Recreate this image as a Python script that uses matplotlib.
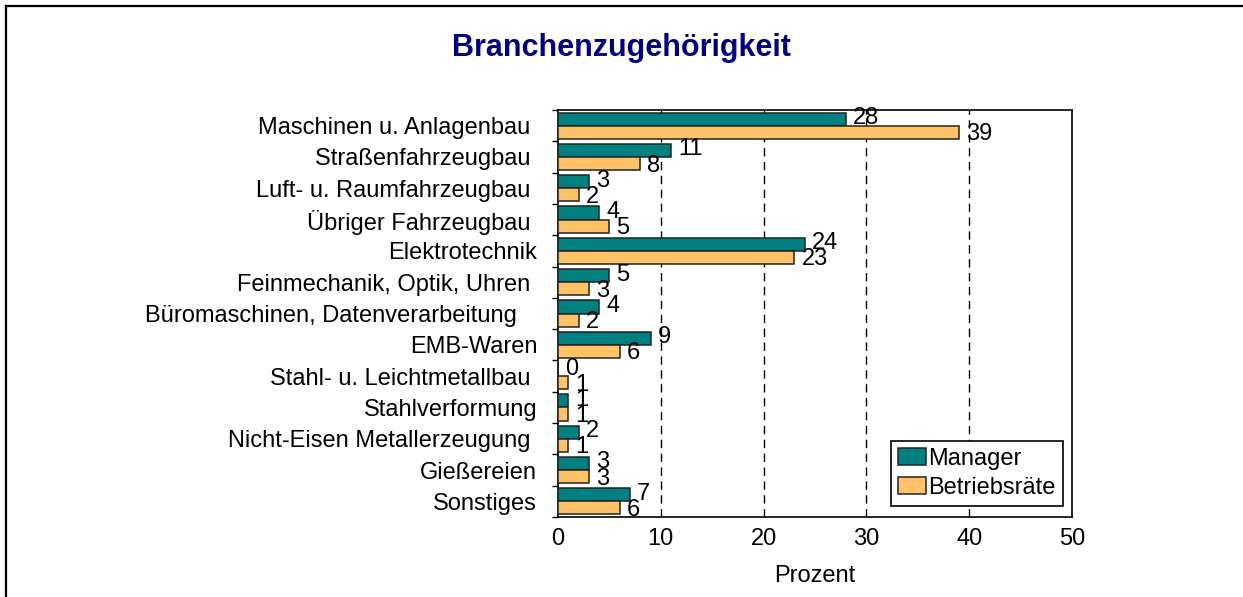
import matplotlib
matplotlib.use("Agg")
import matplotlib.pyplot as plt
import numpy as np
from matplotlib.lines import Line2D

plt.rcParams['font.family'] = ['Liberation Sans', 'DejaVu Sans']

title = "Branchenzugehörigkeit"
categories = [
    "Maschinen u. Anlagenbau ",
    "Straßenfahrzeugbau ",
    "Luft- u. Raumfahrzeugbau ",
    "Übriger Fahrzeugbau ",
    "Elektrotechnik",
    "Feinmechanik, Optik, Uhren ",
    "Büromaschinen, Datenverarbeitung   ",
    "EMB-Waren",
    "Stahl- u. Leichtmetallbau ",
    "Stahlverformung",
    "Nicht-Eisen Metallerzeugung ",
    "Gießereien",
    "Sonstiges",
]
manager = [28, 11, 3, 4, 24, 5, 4, 9, 0, 1, 2, 3, 7]
betriebsraete = [39, 8, 2, 5, 23, 3, 2, 6, 1, 1, 1, 3, 6]
series_names = ["Manager", "Betriebsräte"]
xticks = [0, 10, 20, 30, 40, 50]
xlabel = "Prozent"

W, H = 1243, 597
fig = plt.figure(figsize=(W / 100, H / 100), dpi=100)
ax = fig.add_axes([558 / W, 1 - 517 / H, (1072 - 558) / W, (517 - 110) / H])

y = np.arange(len(categories))
h = 0.42
c1, c2 = "#008080", "#FFC266"
b1 = ax.barh(y - h / 2, manager, height=h, color=c1, edgecolor="#222222", linewidth=1.1, label=series_names[0], zorder=3)
b2 = ax.barh(y + h / 2, betriebsraete, height=h, color=c2, edgecolor="#222222", linewidth=1.1, label=series_names[1], zorder=3)

fs = 17
for bars, dy in ((b1, -1), (b2, 2)):
    for r in bars:
        v = r.get_width()
        ax.annotate(f"{v:g}", (v, r.get_y() + r.get_height() / 2), xytext=(7, -dy),
                    textcoords="offset pixels", va="center", ha="left", fontsize=fs, zorder=4)

ax.set_xlim(0, 50)
ax.set_ylim(len(categories) - 0.5, -0.5)
ax.set_xticks(xticks)
ax.set_xticklabels([str(t) for t in xticks], fontsize=fs)
ax.set_yticks(y)
ax.set_yticklabels(categories, fontsize=fs)
ax.tick_params(axis="y", length=0, pad=15)
ax.set_yticks(np.arange(len(categories) + 1) - 0.5, minor=True)
ax.tick_params(axis="y", which="minor", length=4, width=1, direction="out")
ax.tick_params(axis="x", length=0, pad=8)
ax.set_xlabel(xlabel, fontsize=fs, labelpad=11)

for t in xticks[1:-1]:
    ax.axvline(t, color="black", linestyle=(0, (6, 4)), linewidth=1, zorder=1)

for s in ax.spines.values():
    s.set_color("black")
    s.set_linewidth(1.2)

leg = ax.legend(loc="lower right", bbox_to_anchor=(0.9825, 0.027), fontsize=fs, frameon=True,
                fancybox=False, edgecolor="black", framealpha=1, borderpad=0.3,
                handlelength=1.2, handleheight=0.7, handletextpad=0.1, labelspacing=0.3,
                borderaxespad=0)
leg.get_frame().set_linewidth(1.2)

fig.text(621 / W, 1 - 48 / H, title, ha="center", va="center", fontsize=22,
         fontweight="bold", color="#000080")

# outer frame
fig.add_artist(Line2D([6 / W, 6 / W], [0, 1 - 6 / H], transform=fig.transFigure, color="black", linewidth=1.6))
fig.add_artist(Line2D([6 / W, 1], [1 - 6 / H, 1 - 6 / H], transform=fig.transFigure, color="black", linewidth=1.6))

fig.savefig("out.png", dpi=100)
